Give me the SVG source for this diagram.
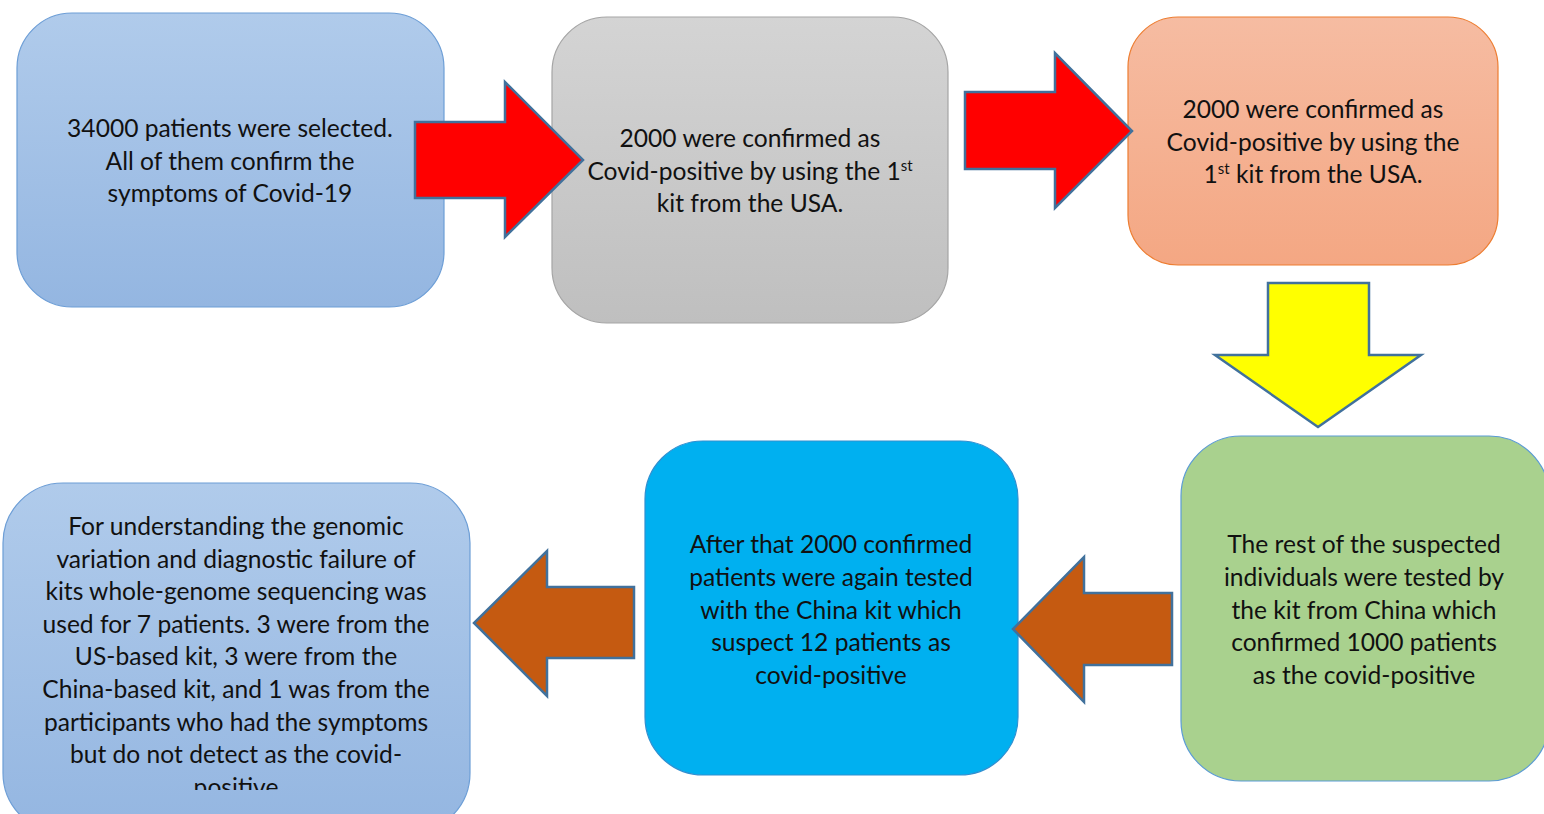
<svg xmlns="http://www.w3.org/2000/svg" width="1544" height="814" viewBox="0 0 1544 814">
<defs>
<linearGradient id="gBlue" x1="0" y1="0" x2="0" y2="1"><stop offset="0" stop-color="#b0cbeb"/><stop offset="1" stop-color="#94b6e1"/></linearGradient>
<linearGradient id="gGray" x1="0" y1="0" x2="0" y2="1"><stop offset="0" stop-color="#d4d4d4"/><stop offset="1" stop-color="#bfbfbf"/></linearGradient>
<linearGradient id="gOrange" x1="0" y1="0" x2="0" y2="1"><stop offset="0" stop-color="#f6bca2"/><stop offset="1" stop-color="#f4a783"/></linearGradient>
<clipPath id="clip6"><rect x="0" y="483" width="480" height="307"/></clipPath>
<style>
text{font-family:Lato,"Liberation Sans",Arial,sans-serif;font-size:24.6px;fill:#111;text-anchor:middle}
.arrow{stroke:#41719c;stroke-width:2.5;stroke-linejoin:miter}
</style>
</defs>
<rect width="1544" height="814" fill="#fff"/>

<g id="node1">
<rect x="17" y="13" width="427" height="294" rx="55" fill="url(#gBlue)" stroke="#6d9ed6" stroke-width="1.2"/>
<text x="230" y="137">34000 patients were selected.</text>
<text x="230" y="169.5">All of them confirm the</text>
<text x="230" y="202">symptoms of Covid-19</text>
</g>

<g id="node2">
<rect x="552" y="17" width="396" height="306" rx="55" fill="url(#gGray)" stroke="#a5a5a5" stroke-width="1.2"/>
<text x="750" y="147">2000 were confirmed as</text>
<text x="750" y="179.5">Covid-positive by using the 1<tspan dy="-9" font-size="15">st</tspan></text>
<text x="750" y="212">kit from the USA.</text>
</g>

<g id="node3">
<rect x="1128" y="17" width="370" height="248" rx="50" fill="url(#gOrange)" stroke="#ed7d31" stroke-width="1.2"/>
<text x="1313" y="118">2000 were confirmed as</text>
<text x="1313" y="150.5">Covid-positive by using the</text>
<text x="1313" y="183">1<tspan dy="-9" font-size="15">st</tspan><tspan dy="9"> kit from the USA.</tspan></text>
</g>

<g id="node4">
<rect x="1181" y="436" width="368" height="345" rx="60" fill="#a9d18e" stroke="#5b9bd5" stroke-width="1.2"/>
<text x="1364" y="553">The rest of the suspected</text>
<text x="1364" y="586">individuals were tested by</text>
<text x="1364" y="619">the kit from China which</text>
<text x="1364" y="651">confirmed 1000 patients</text>
<text x="1364" y="684">as the covid-positive</text>
</g>

<g id="node5">
<rect x="645" y="441" width="373" height="334" rx="58" fill="#00b0f0" stroke="#2f8fd0" stroke-width="1.2"/>
<text x="831" y="553">After that 2000 confirmed</text>
<text x="831" y="586">patients were again tested</text>
<text x="831" y="619">with the China kit which</text>
<text x="831" y="651">suspect 12 patients as</text>
<text x="831" y="684">covid-positive</text>
</g>

<g id="node6">
<rect x="3" y="483" width="467" height="350" rx="60" fill="url(#gBlue)" stroke="#6d9ed6" stroke-width="1.2"/>
<g clip-path="url(#clip6)">
<text x="236" y="535">For understanding the genomic</text>
<text x="236" y="568">variation and diagnostic failure of</text>
<text x="236" y="600">kits whole-genome sequencing was</text>
<text x="236" y="633">used for 7 patients. 3 were from the</text>
<text x="236" y="665">US-based kit, 3 were from the</text>
<text x="236" y="698">China-based kit, and 1 was from the</text>
<text x="236" y="731">participants who had the symptoms</text>
<text x="236" y="763">but do not detect as the covid-</text>
<text x="236" y="796">positive</text>
</g>
</g>

<g id="connectors">
<polygon class="arrow" fill="#ff0000" points="415,122 505,122 505,82 583,160 505,237 505,198 415,198"/>
<polygon class="arrow" fill="#ff0000" points="965,92 1055,92 1055,53 1132,131 1055,208 1055,169 965,169"/>
<polygon class="arrow" fill="#ffff00" points="1268,283 1369,283 1369,355 1421,355 1318,427 1215,355 1268,355"/>
<polygon class="arrow" fill="#c55a11" points="1172,593 1084,593 1084,557 1013,629 1084,702 1084,665 1172,665"/>
<polygon class="arrow" fill="#c55a11" points="634,587 547,587 547,551 474,623 547,696 547,658 634,658"/>
</g>
</svg>
